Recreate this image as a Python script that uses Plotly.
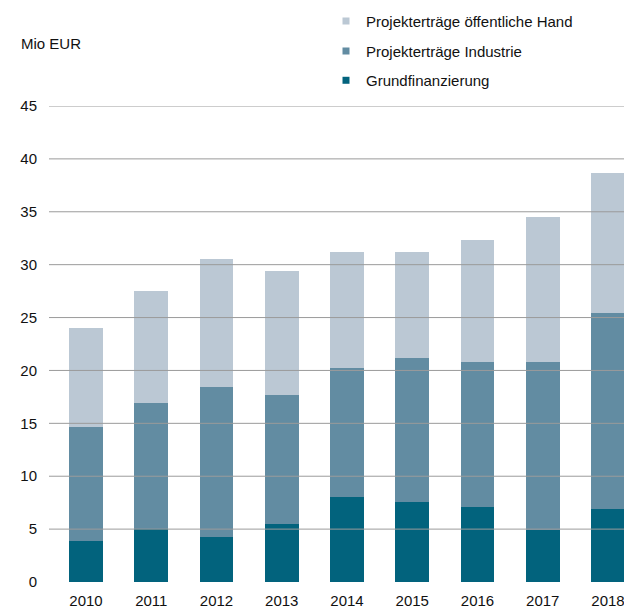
import plotly.graph_objects as go

years = ["2010", "2011", "2012", "2013", "2014", "2015", "2016", "2017", "2018"]
grundfinanzierung = [3.9, 5.0, 4.3, 5.5, 8.0, 7.6, 7.1, 4.9, 6.9]
industrie_top = [14.7, 16.9, 18.4, 17.7, 20.2, 21.2, 20.8, 20.8, 25.4]
gesamt = [24.0, 27.5, 30.5, 29.4, 31.2, 31.2, 32.3, 34.5, 38.7]
industrie = [round(t - g, 2) for t, g in zip(industrie_top, grundfinanzierung)]
oeffentlich = [round(t - i, 2) for t, i in zip(gesamt, industrie_top)]

y_ticks = [0, 5, 10, 15, 20, 25, 30, 35, 40, 45]
unit_label = "Mio EUR"

names = ["Grundfinanzierung", "Projekterträge Industrie", "Projekterträge öffentliche Hand"]
colors = ["#02637d", "#628ca2", "#bbc8d4"]
series = [grundfinanzierung, industrie, oeffentlich]
legend_ids = ["legend3", "legend2", "legend"]

FONT = "Liberation Sans, Arial, sans-serif"
TXT = "#111111"

fig = go.Figure()
for name, col, vals in zip(names, colors, series):
    fig.add_trace(go.Bar(x=years, y=vals, name=name, marker=dict(color=col, line=dict(width=0)),
                         width=0.52, showlegend=False))
for name, col, leg in zip(names, colors, legend_ids):
    fig.add_trace(go.Scatter(x=[None], y=[None], mode="markers", name=name,
                             marker=dict(symbol="square", size=7, color=col),
                             showlegend=True, legend=leg))

for t in y_ticks[1:]:
    fig.add_shape(type="line", xref="paper", yref="y", x0=0, x1=1, y0=t, y1=t,
                  line=dict(color="#9b9b9b", width=1), layer="above")

H = 476.5
def py(pix):
    return (582 - pix) / H

leg_common = dict(x=(326 - 49) / 575, xanchor="left", yanchor="middle",
                  bgcolor="rgba(0,0,0,0)", font=dict(family=FONT, size=15, color=TXT))

fig.update_layout(
    width=624, height=608,
    margin=dict(l=49, r=0, t=105.5, b=26),
    paper_bgcolor="white", plot_bgcolor="white",
    barmode="stack", bargap=0.48,
    font=dict(family=FONT, size=15, color=TXT),
    xaxis=dict(type="category", range=[-0.567, 8.245], showgrid=False, showline=False,
               ticks="", tickfont=dict(size=15, color=TXT), ticklabelstandoff=8,
               automargin=False),
    yaxis=dict(range=[0, 45], tickvals=y_ticks, showgrid=False, zeroline=False,
               showline=False, ticks="", tickfont=dict(size=15, color=TXT),
               ticklabelstandoff=11, automargin=False),
    legend=dict(y=py(20.7), **leg_common),
    legend2=dict(y=py(50.7), **leg_common),
    legend3=dict(y=py(80), **leg_common),
    annotations=[dict(text=unit_label, xref="paper", yref="paper", x=(19 - 49) / 575,
                      y=py(43.3), xanchor="left", yanchor="middle", showarrow=False,
                      font=dict(family=FONT, size=15, color=TXT))],
    showlegend=True,
)

fig.write_html("out.html", config={"displayModeBar": False},
               post_script="document.body.style.margin='0';document.body.style.overflow='hidden';")
